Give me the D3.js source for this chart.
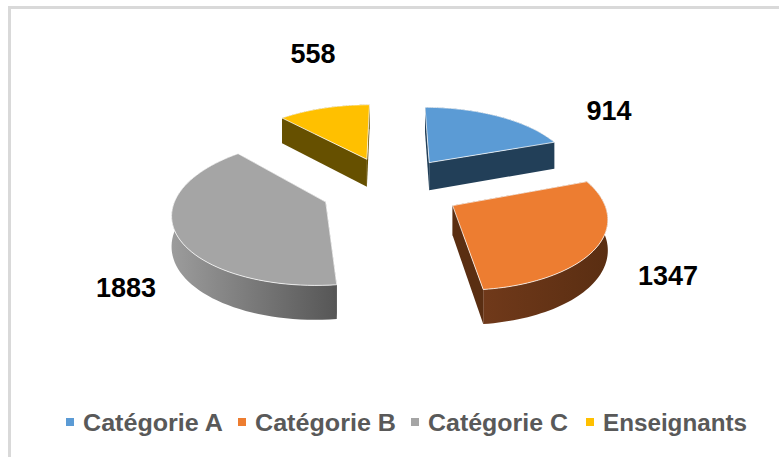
<!DOCTYPE html>
<html>
<head>
<meta charset="utf-8">
<script src="https://cdn.jsdelivr.net/npm/d3@7"></script>
<style>
  html, body { margin: 0; padding: 0; background: #fff; }
  svg { display: block; }
  text { font-family: "Liberation Sans", Arial, sans-serif; font-weight: bold; }
</style>
</head>
<body>
<div class="chart"></div>
<script>
const categories = ['Catégorie A', 'Catégorie B', 'Catégorie C', 'Enseignants'];
const values = [914, 1347, 1883, 558];
const topColors = ['#5b9bd5', '#ed7d31', '#a5a5a5', '#ffc000'];
const sideFrom = ['#223f58', '#70391a', '#9c9c9c', '#665000'];
const sideTo = ['#223f58', '#5a2e12', '#565656', '#665000'];
const labelPos = [[609, 120], [668, 285], [126, 297], [313, 63]];
const legendX = [66, 238, 411, 586];
const legendWidth = [140, 141, 140, 144];

const width = 779, height = 457;
const cx = 391, cy = 188;      // centre of the exploded pie on screen
const radius = 147.5, explode = 70, depth = 29;
const squash = 0.465, persp = 0.13;

const svg = d3.select('.chart').append('svg')
  .attr('width', width).attr('height', height);

// frame
svg.append('rect')
  .attr('x', 9.5).attr('y', 7.5)
  .attr('width', 790).attr('height', 480)
  .attr('fill', '#fff').attr('stroke', '#d9d9d9').attr('stroke-width', 3);

const slices = d3.pie().sort(null)(values);

// world -> screen, with a little perspective
const scaleAt = z => 1 / (1 - persp * z / radius);
const project = (x, z, h) => {
  const f = scaleAt(z);
  return [cx + x * f, cy + squash * z * f + h * depth * f];
};
const line = d3.line();

const defs = svg.append('defs');
slices.forEach((s, i) => {
  const g = defs.append('linearGradient').attr('id', 'side' + i);
  g.append('stop').attr('offset', 0).attr('stop-color', sideFrom[i]);
  g.append('stop').attr('offset', 1).attr('stop-color', sideTo[i]);
});

// back slices first
const order = slices.map((s, i) => {
  const mid = (s.startAngle + s.endAngle) / 2;
  return { s, i, ox: explode * Math.sin(mid), oz: -explode * Math.cos(mid) };
}).sort((a, b) => a.oz - b.oz);

const g = svg.append('g');
order.forEach(({ s, i, ox, oz }) => {
  const rim = h => d3.range(0, 61).map(k => {
    const a = s.startAngle + (s.endAngle - s.startAngle) * k / 60;
    return project(ox + radius * Math.sin(a), oz - radius * Math.cos(a), h);
  });
  const apex = h => project(ox, oz, h);
  const top = rim(0), bottom = rim(1);

  g.append('path')
    .attr('d', line(top.concat(bottom.slice().reverse())) + 'Z')
    .attr('fill', `url(#side${i})`);
  [[apex(0), top[0], bottom[0], apex(1)],
   [apex(0), top[60], bottom[60], apex(1)]].forEach(w => {
    g.append('path').attr('d', line(w) + 'Z').attr('fill', sideTo[i]);
  });
  g.append('path')
    .attr('d', line([apex(0)].concat(top)) + 'Z')
    .attr('fill', topColors[i])
    .attr('stroke', '#fff').attr('stroke-opacity', 0.75).attr('stroke-width', 1)
    .attr('stroke-linejoin', 'round');
});

// value labels
svg.append('g').selectAll('text').data(values).join('text')
  .attr('x', (d, i) => labelPos[i][0])
  .attr('y', (d, i) => labelPos[i][1])
  .attr('text-anchor', 'middle')
  .attr('font-size', 27)
  .attr('fill', '#000')
  .text(d => d);

// legend
const legend = svg.append('g').selectAll('g').data(categories).join('g')
  .attr('transform', (d, i) => `translate(${legendX[i]},0)`);
legend.append('rect')
  .attr('y', 418).attr('width', 8).attr('height', 8)
  .attr('fill', (d, i) => topColors[i]);
legend.append('text')
  .attr('x', 17).attr('y', 431)
  .attr('font-size', 23.5)
  .attr('textLength', (d, i) => legendWidth[i])
  .attr('lengthAdjust', 'spacingAndGlyphs')
  .attr('fill', '#595959')
  .text(d => d);
</script>
</body>
</html>
